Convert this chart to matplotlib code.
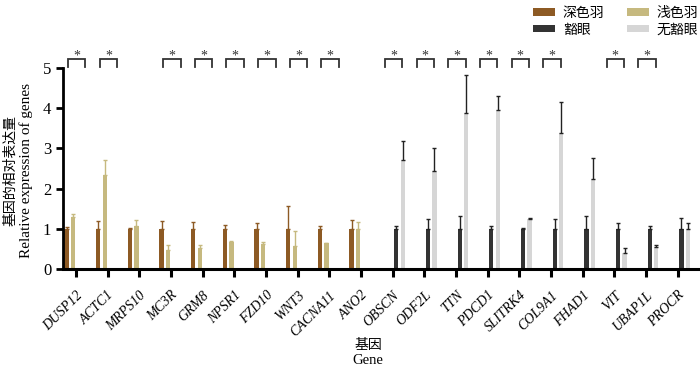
import numpy as np
import matplotlib
matplotlib.use("Agg")
import matplotlib.pyplot as plt
from matplotlib.patches import Patch

genes = ["DUSP12", "ACTC1", "MRPS10", "MC3R", "GRM8", "NPSR1", "FZD10", "WNT3", "CACNA11", "ANO2",
         "OBSCN", "ODF2L", "TTN", "PDCD1", "SLITRK4", "COL9A1", "FHAD1", "VIT", "UBAP1L", "PROCR"]
series_names = ["深色羽", "浅色羽", "豁眼", "无豁眼"]
nan = np.nan
dark_feather = [1.0, 1.0, 1.0, 1.0, 1.0, 1.0, 1.0, 1.0, 1.0, 1.0] + [nan] * 10
dark_feather_err = [0.04, 0.21, 0.03, 0.20, 0.18, 0.10, 0.14, 0.56, 0.08, 0.22] + [nan] * 10
light_feather = [1.29, 2.35, 1.07, 0.47, 0.52, 0.68, 0.62, 0.59, 0.65, 1.0] + [nan] * 10
light_feather_err = [0.08, 0.37, 0.16, 0.13, 0.09, 0.02, 0.06, 0.37, 0.0, 0.18] + [nan] * 10
cleft_eye = [nan] * 10 + [1.0, 1.0, 1.0, 1.0, 1.0, 1.0, 1.0, 1.0, 1.0, 1.0]
cleft_eye_err = [nan] * 10 + [0.08, 0.24, 0.33, 0.08, 0.03, 0.24, 0.33, 0.14, 0.08, 0.27]
no_cleft_eye = [nan] * 10 + [2.70, 2.44, 3.87, 3.94, 1.24, 3.37, 2.23, 0.40, 0.55, 0.99]
no_cleft_eye_err = [nan] * 10 + [0.49, 0.56, 0.96, 0.35, 0.02, 0.78, 0.54, 0.13, 0.05, 0.15]
significant = ["DUSP12", "ACTC1", "MC3R", "GRM8", "NPSR1", "FZD10", "WNT3", "CACNA11",
               "OBSCN", "ODF2L", "TTN", "PDCD1", "SLITRK4", "COL9A1", "VIT", "UBAP1L"]

colors = ["#8d5a24", "#c6b97f", "#333333", "#d6d6d6"]
err_colors = ["#8d5a24", "#c6b97f", "#222222", "#222222"]

serif_cjk = ["Liberation Serif", "Noto Sans CJK SC"]
plt.rcParams["font.family"] = serif_cjk

fig = plt.figure(figsize=(7.0, 3.69), dpi=100)
ax = fig.add_axes([0.09, 0.2702, 0.91, 0.5463])

x = np.arange(len(genes))
values = [dark_feather, light_feather, cleft_eye, no_cleft_eye]
errs = [dark_feather_err, light_feather_err, cleft_eye_err, no_cleft_eye_err]
slot = 0.205
bw = 0.136
for k in range(4):
    pos = x + (k - 1.5) * slot + 0.01
    v = np.array(values[k], dtype=float)
    e = np.array(errs[k], dtype=float)
    ax.bar(pos, v, width=bw, color=colors[k], zorder=2)
    ax.errorbar(pos, v, yerr=[np.zeros_like(e), e], fmt="none", ecolor=err_colors[k],
                elinewidth=1.0, capsize=1.5, capthick=1.0, zorder=3)

for g in significant:
    i = genes.index(g)
    xl, xr = i - 0.25, i + 0.30
    ax.plot([xl, xl, xr, xr], [5.03, 5.21, 5.21, 5.03], color="#333333", lw=1.3,
            clip_on=False, solid_joinstyle="miter", zorder=4)
    ax.text((xl + xr) / 2, 5.30, "*", ha="center", va="center", fontsize=10,
            color="#333333", clip_on=False)

ax.set_xlim(-0.41, 19.70)
ax.set_ylim(0, 5)
ax.set_yticks([0, 1, 2, 3, 4, 5])
ax.set_xticks(x)
ax.set_xticklabels(genes, rotation=45, ha="right", rotation_mode="anchor",
                   fontstyle="italic", fontsize=10)
ax.tick_params(axis="y", labelsize=12, width=2, length=5, direction="out")
ax.tick_params(axis="x", width=2.2, length=6, direction="out", pad=8)
for s in ["top", "right"]:
    ax.spines[s].set_visible(False)
ax.spines["left"].set_linewidth(2)
ax.spines["bottom"].set_linewidth(2.2)

fig.text(0.0145, 0.537, "基因的相对表达量", rotation=90, ha="center", va="center",
         fontsize=10, family=serif_cjk)
fig.text(0.037, 0.537, "Relative expression of genes", rotation=90, ha="center",
         va="center", fontsize=11, family=serif_cjk)
fig.text(0.526, 0.064, "基因", ha="center", va="center", fontsize=10, family=serif_cjk)
fig.text(0.526, 0.022, "Gene", ha="center", va="center", fontsize=10.5, family=serif_cjk)

handles = [Patch(facecolor=c, edgecolor="none") for c in colors]
order = [0, 2, 1, 3]
fig.legend([handles[i] for i in order], [series_names[i] for i in order], ncol=2,
           loc="upper left", bbox_to_anchor=(533 / 700, 1 - 7 / 369), frameon=False,
           borderpad=0, borderaxespad=0,
           handlelength=1.6, handleheight=0.45, handletextpad=0.55, columnspacing=1.6,
           labelspacing=0.25, prop={"family": serif_cjk, "size": 10})

fig.savefig("out.png", dpi=100)
